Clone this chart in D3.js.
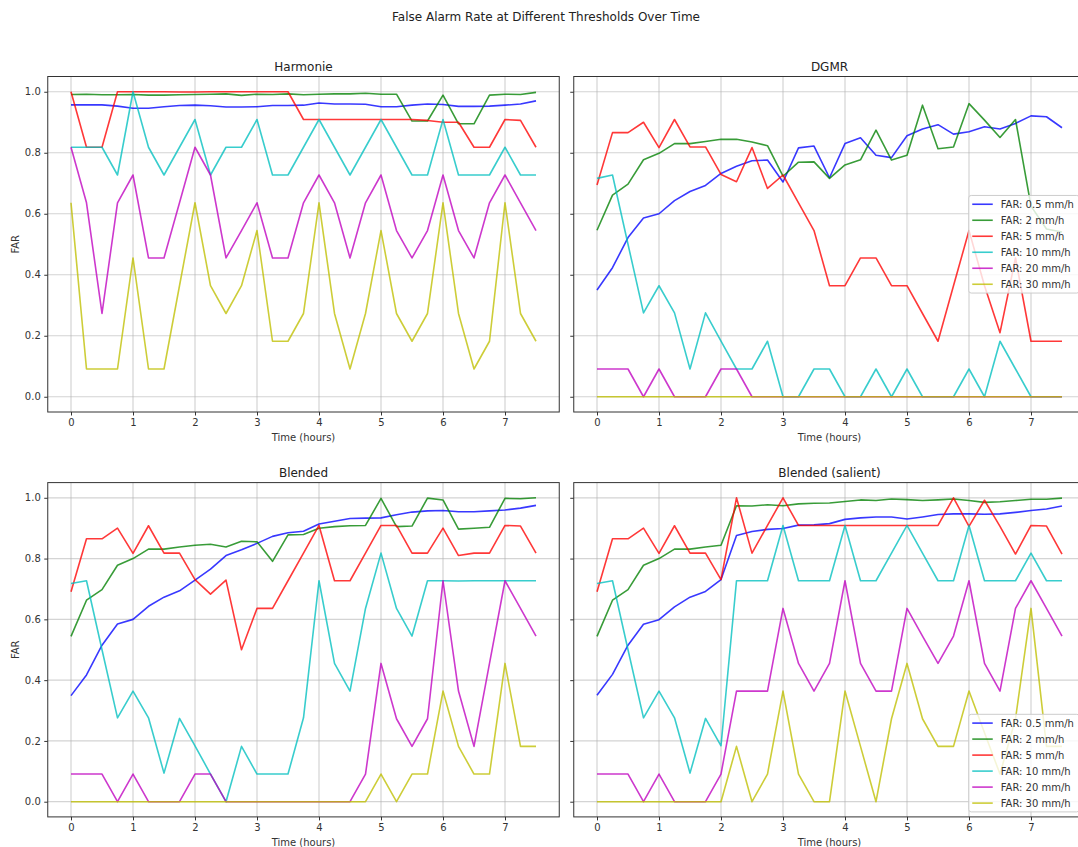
<!DOCTYPE html>
<html>
<head>
<meta charset="utf-8">
<script src="https://cdn.jsdelivr.net/npm/d3@7"></script>
<style>
  html, body { margin: 0; padding: 0; background: #fff; }
  svg { display: block; font-family: "DejaVu Sans", sans-serif; }
</style>
</head>
<body>
<svg id="chart" width="1078" height="847"></svg>
<script>
// ---------------- DATA ----------------
const times = [0,0.25,0.5,0.75,1,1.25,1.5,1.75,2,2.25,2.5,2.75,3,3.25,3.5,3.75,4,4.25,4.5,4.75,5,5.25,5.5,5.75,6,6.25,6.5,6.75,7,7.25,7.5];
const seriesLabels = ["FAR: 0.5 mm/h","FAR: 2 mm/h","FAR: 5 mm/h","FAR: 10 mm/h","FAR: 20 mm/h","FAR: 30 mm/h"];
const xTicks = [0,1,2,3,4,5,6,7];
const yTicks = [0.0,0.2,0.4,0.6,0.8,1.0];
const panelTitles = ["Harmonie","DGMR","Blended","Blended (salient)"];

// Harmonie
const harmonie05 = [.957,.957,.957,.953,.946,.946,.951,.955,.956,.954,.950,.950,.951,.955,.955,.956,.963,.960,.960,.959,.951,.951,.956,.960,.958,.952,.952,.953,.956,.960,.970];
const harmonie2  = [.991,.992,.990,.990,.991,.989,.989,.990,.991,.992,.993,.988,.992,.991,.993,.990,.992,.993,.993,.995,.992,.992,.904,.904,.989,.895,.895,.989,.992,.991,.998];
const harmonie5  = [1.0,.818,.818,1.0,1.0,1.0,1.0,.999,.999,1.0,1.0,1.0,1.0,1.0,1.0,.909,.909,.909,.909,.909,.909,.909,.909,.906,.900,.900,.818,.818,.909,.906,.818];
const harmonie10 = [.818,.818,.818,.727,1.0,.818,.727,.818,.909,.727,.818,.818,.909,.727,.727,.818,.909,.818,.727,.818,.909,.818,.727,.727,.909,.727,.727,.727,.818,.727,.727];
const harmonie20 = [.818,.636,.273,.636,.727,.455,.455,.636,.818,.727,.455,.545,.636,.455,.455,.636,.727,.636,.455,.636,.727,.545,.455,.545,.727,.545,.455,.636,.727,.636,.545];
const harmonie30 = [.636,.091,.091,.091,.455,.091,.091,.364,.636,.364,.273,.364,.545,.182,.182,.273,.636,.273,.091,.273,.545,.273,.182,.273,.636,.273,.091,.182,.636,.273,.182];

// DGMR
const dgmr05 = [.350,.423,.522,.586,.600,.643,.673,.693,.732,.756,.774,.776,.704,.816,.822,.718,.830,.849,.792,.784,.856,.878,.892,.861,.869,.885,.878,.896,.921,.918,.882];
const dgmr2  = [.546,.661,.697,.777,.798,.830,.830,.837,.844,.844,.835,.823,.723,.769,.770,.716,.760,.777,.874,.776,.792,.956,.813,.819,.961,.907,.850,.909,.625,.550,.540];
const dgmr5  = [.694,.866,.866,.900,.817,.909,.819,.819,.729,.705,.817,.683,.727,.636,.545,.364,.364,.455,.455,.364,.364,.273,.182,.364,.545,.364,.210,.455,.182,.182,.182];
const dgmr10 = [.716,.727,.500,.275,.364,.275,.091,.275,.182,.091,.091,.182,0,0,.091,.091,0,0,.091,0,.091,0,0,0,.091,0,.182,.091,0,0,0];
const dgmr20 = [.091,.091,.091,0,.091,0,0,0,.091,.091,0,0,0,0,0,0,0,0,0,0,0,0,0,0,0,0,0,0,0,0,0];
const dgmr30 = [0,0,0,0,0,0,0,0,0,0,0,0,0,0,0,0,0,0,0,0,0,0,0,0,0,0,0,0,0,0,0];

// Blended
const blended05 = [.349,.417,.515,.585,.600,.643,.673,.694,.729,.765,.810,.829,.850,.873,.885,.890,.914,.923,.932,.933,.934,.944,.953,.957,.958,.954,.954,.957,.960,.966,.975];
const blended2  = [.544,.663,.698,.778,.800,.831,.831,.838,.844,.847,.838,.857,.855,.791,.878,.879,.900,.905,.908,.909,.998,.905,.907,.999,.993,.897,.900,.903,.998,.997,1.0];
const blended5  = [.691,.865,.865,.900,.817,.908,.818,.818,.731,.683,.729,.500,.636,.636,.727,.818,.909,.727,.727,.818,.909,.909,.818,.818,.900,.810,.818,.818,.909,.907,.818];
const blended10 = [.718,.727,.500,.276,.364,.276,.094,.274,.184,.091,0,.182,.091,.091,.091,.276,.727,.455,.364,.636,.818,.636,.545,.727,.727,.726,.727,.727,.727,.727,.727];
const blended20 = [.091,.091,.091,0,.091,0,0,0,.091,.091,0,0,0,0,0,0,0,0,0,.091,.455,.273,.182,.273,.727,.364,.182,.455,.727,.636,.545];
const blended30 = [0,0,0,0,0,0,0,0,0,0,0,0,0,0,0,0,0,0,0,0,.091,0,.091,.091,.364,.182,.091,.091,.455,.182,.182];

// Blended (salient)
const salient05 = [.350,.419,.515,.584,.599,.641,.673,.692,.731,.876,.889,.896,.899,.910,.911,.915,.929,.934,.937,.937,.930,.937,.945,.947,.947,.946,.947,.952,.958,.963,.973];
const salient2  = [.544,.663,.698,.778,.800,.831,.831,.838,.844,.974,.973,.977,.974,.980,.982,.983,.988,.993,.991,.996,.994,.991,.993,.996,.991,.985,.987,.991,.995,.995,.999];
const salient5  = [.691,.865,.865,.900,.817,.908,.818,.818,.731,1.0,.818,.909,1.0,.909,.909,.909,.909,.909,.909,.909,.909,.909,.909,1.0,.906,.992,.906,.815,.909,.907,.815];
const salient10 = [.718,.727,.500,.276,.364,.276,.094,.274,.184,.727,.727,.727,.909,.727,.727,.727,.909,.727,.727,.818,.909,.818,.727,.727,.909,.727,.727,.727,.818,.727,.727];
const salient20 = [.091,.091,.091,0,.091,0,0,0,.091,.364,.364,.364,.636,.455,.364,.455,.727,.455,.364,.364,.636,.545,.455,.545,.727,.455,.364,.636,.727,.636,.545];
const salient30 = [0,0,0,0,0,0,0,0,0,.182,0,.091,.364,.091,0,0,.364,.182,0,.273,.455,.273,.182,.182,.364,.227,.091,.273,.636,.182,.182];

// ---------------- STYLE ----------------
const colors = ["#0000ff","#008000","#ff0000","#00bfbf","#bf00bf","#bfbf00"];
const lineOpacity = 0.78;

const panels = [
  {title: panelTitles[0], series: [harmonie05,harmonie2,harmonie5,harmonie10,harmonie20,harmonie30], x0: 47.75, x1: 559.25, y0: 76.5, y1: 412, yLabels: true, legend: null},
  {title: panelTitles[1], series: [dgmr05,dgmr2,dgmr5,dgmr10,dgmr20,dgmr30], x0: 573.75, x1: 1085.25, y0: 76.5, y1: 412, yLabels: false, legend: "center"},
  {title: panelTitles[2], series: [blended05,blended2,blended5,blended10,blended20,blended30], x0: 47.75, x1: 559.25, y0: 482.6, y1: 816.9, yLabels: true, legend: null},
  {title: panelTitles[3], series: [salient05,salient2,salient5,salient10,salient20,salient30], x0: 573.75, x1: 1085.25, y0: 482.6, y1: 816.9, yLabels: false, legend: "lower"}
];

const svg = d3.select("#chart");
svg.append("rect").attr("width",1078).attr("height",847).attr("fill","#fff");

svg.append("text")
  .attr("x", 546).attr("y", 20.5)
  .attr("text-anchor","middle")
  .attr("font-size","12px").attr("fill","#222")
  .text("False Alarm Rate at Different Thresholds Over Time");

panels.forEach(p => {
  const x = d3.scaleLinear().domain([-0.375, 7.875]).range([p.x0, p.x1]);
  const y = d3.scaleLinear().domain([-0.05, 1.05]).range([p.y1, p.y0]);
  const g = svg.append("g");

  // grid
  g.append("g").selectAll("line").data(xTicks).join("line")
    .attr("x1", d => x(d)).attr("x2", d => x(d))
    .attr("y1", p.y0).attr("y2", p.y1)
    .attr("stroke","#b0b0b0").attr("stroke-opacity",0.55).attr("stroke-width",1.2);
  g.append("g").selectAll("line").data(yTicks).join("line")
    .attr("x1", p.x0).attr("x2", p.x1)
    .attr("y1", d => y(d)).attr("y2", d => y(d))
    .attr("stroke","#b0b0b0").attr("stroke-opacity",0.55).attr("stroke-width",1.2);

  // lines
  const line = d3.line().x((d,i) => x(times[i])).y(d => y(d));
  p.series.forEach((s, k) => {
    g.append("path").datum(s)
      .attr("d", line)
      .attr("fill","none")
      .attr("stroke", colors[k])
      .attr("stroke-opacity", lineOpacity)
      .attr("stroke-width", 1.6)
      .attr("stroke-linejoin","round");
  });

  // axes
  const xAxis = d3.axisBottom(x).tickValues(xTicks).tickFormat(d3.format("d")).tickSize(3.5).tickPadding(3.5);
  const gx = g.append("g").attr("transform", `translate(0,${p.y1})`).call(xAxis);
  const yAxis = d3.axisLeft(y).tickValues(yTicks).tickFormat(p.yLabels ? d3.format(".1f") : () => "").tickSize(3.5).tickPadding(3.5);
  const gy = g.append("g").attr("transform", `translate(${p.x0},0)`).call(yAxis);
  [gx, gy].forEach(a => {
    a.select(".domain").remove();
    a.selectAll("line").attr("stroke","#333");
    a.selectAll("text").attr("font-size","10px").attr("fill","#333").attr("font-family","DejaVu Sans, sans-serif");
  });

  // frame
  g.append("rect")
    .attr("x", p.x0).attr("y", p.y0)
    .attr("width", p.x1 - p.x0).attr("height", p.y1 - p.y0)
    .attr("fill","none").attr("stroke","#333").attr("stroke-width",1);

  // titles and labels
  g.append("text")
    .attr("x", (p.x0 + p.x1) / 2).attr("y", p.y0 - 5.5)
    .attr("text-anchor","middle").attr("font-size","12px").attr("fill","#222")
    .text(p.title);
  g.append("text")
    .attr("x", (p.x0 + p.x1) / 2).attr("y", p.y1 + 29)
    .attr("text-anchor","middle").attr("font-size","10px").attr("fill","#333")
    .text("Time (hours)");
  if (p.yLabels) {
    const cy = (p.y0 + p.y1) / 2;
    g.append("text")
      .attr("transform", `translate(18.5,${cy}) rotate(-90)`)
      .attr("text-anchor","middle").attr("font-size","10px").attr("fill","#333")
      .text("FAR");
  }

  // legend
  if (p.legend) {
    const lw = 110.5, lh = 97.6;
    const lx = p.x1 - 5 - lw - 1;
    const ly = p.legend === "center" ? (p.y0 + p.y1) / 2 - lh / 2 : p.y1 - 5 - lh;
    const lg = g.append("g");
    lg.append("rect")
      .attr("x", lx).attr("y", ly).attr("width", lw).attr("height", lh)
      .attr("rx", 2.5)
      .attr("fill","#fff").attr("fill-opacity",0.8)
      .attr("stroke","#cccccc").attr("stroke-width",1);
    seriesLabels.forEach((lab, k) => {
      const ry = ly + 8.8 + k * 16;
      lg.append("line")
        .attr("x1", lx + 3.5).attr("x2", lx + 24)
        .attr("y1", ry).attr("y2", ry)
        .attr("stroke", colors[k]).attr("stroke-opacity", lineOpacity).attr("stroke-width",1.6);
      lg.append("text")
        .attr("x", lx + 32).attr("y", ry)
        .attr("dominant-baseline","central")
        .attr("font-size","10px").attr("fill","#333")
        .text(lab);
    });
  }
});
</script>
</body>
</html>
